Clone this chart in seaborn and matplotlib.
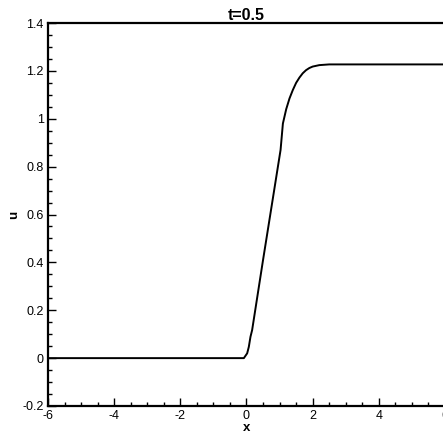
import matplotlib
matplotlib.use("Agg")
import matplotlib.pyplot as plt
from matplotlib.ticker import MultipleLocator, FixedLocator, FixedFormatter
import seaborn as sns
import pandas as pd

# data
x_vals = [-6.0, -0.08, 0.02, 0.07, 0.12, 0.17, 0.50, 0.80, 1.03, 1.10, 1.20, 1.30,
          1.40, 1.50, 1.60, 1.70, 1.80, 1.90, 2.00, 2.20, 2.50, 6.0]
u_vals = [0.0, 0.0, 0.02, 0.047, 0.089, 0.117, 0.41, 0.67, 0.87, 0.98, 1.04, 1.085,
          1.12, 1.15, 1.172, 1.19, 1.203, 1.212, 1.218, 1.224, 1.227, 1.227]
x_ticks = [-6, -4, -2, 0, 2, 4, 6]
x_tick_labels = ["-6", "-4", "-2", "0", "2", "4", "6"]
y_ticks = [-0.2, 0.0, 0.2, 0.4, 0.6, 0.8, 1.0, 1.2, 1.4]
y_tick_labels = ["-0.2", "0", "0.2", "0.4", "0.6", "0.8", "1", "1.2", "1.4"]
title_text = "t=0.5"
x_label = "x"
y_label = "u"

sns.set_style("ticks")
plt.rcParams["font.family"] = ["Liberation Sans", "DejaVu Sans"]
plt.rcParams["text.color"] = "black"
plt.rcParams["axes.labelcolor"] = "black"

df = pd.DataFrame({"x": x_vals, "u": u_vals})

fig = plt.figure(figsize=(4.43, 4.43), dpi=100)
ax = fig.add_axes([48 / 443, 1 - 406 / 443, 397 / 443, 383 / 443])
sns.lineplot(data=df, x="x", y="u", ax=ax, color="black", linewidth=1.4, sort=False)

ax.set_xlim(-6, 6)
ax.set_ylim(-0.2, 1.4)
ax.xaxis.set_major_locator(FixedLocator(x_ticks))
ax.xaxis.set_major_formatter(FixedFormatter(x_tick_labels))
ax.yaxis.set_major_locator(FixedLocator(y_ticks))
ax.yaxis.set_major_formatter(FixedFormatter(y_tick_labels))
ax.xaxis.set_minor_locator(MultipleLocator(0.5))
ax.yaxis.set_minor_locator(MultipleLocator(0.05))

ax.tick_params(which="major", direction="in", length=6, width=1.0, labelsize=9,
               colors="black", pad=3)
ax.tick_params(which="minor", direction="in", length=3, width=1.0, colors="black")
ax.tick_params(top=False, right=False, which="both")

for s in ax.spines.values():
    s.set_linewidth(1.6)
    s.set_color("black")

ax.set_title(title_text, fontsize=11.5, fontweight="bold", pad=2, color="black")
ax.set_xlabel(x_label, fontsize=9.5, fontweight="bold", labelpad=0, color="black")
ax.set_ylabel(y_label, fontsize=9.5, fontweight="bold", labelpad=2, color="black")

fig.savefig("out.png", dpi=100)
